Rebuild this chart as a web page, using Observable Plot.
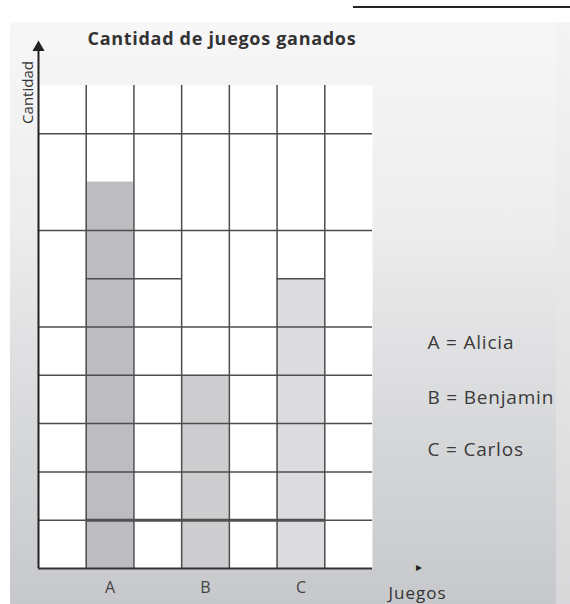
<!DOCTYPE html>
<html>
<head>
<meta charset="utf-8">
<script src="https://cdn.jsdelivr.net/npm/d3@7"></script>
<script src="https://cdn.jsdelivr.net/npm/@observablehq/plot@0.6"></script>
<style>
  html, body { margin: 0; padding: 0; background: #fff; }
  #wrap { position: relative; width: 570px; height: 604px; overflow: hidden; font-family: "Open Sans", sans-serif; }
  #bg { position: absolute; left: 10px; top: 22px; width: 546px; height: 582px;
        background: linear-gradient(to bottom, #f7f7f7 0%, #ededee 35%, #d7d8da 70%, #c7c8cb 100%); }
  #bgstrip { position: absolute; left: 556px; top: 22px; width: 14px; height: 582px;
        background: linear-gradient(to bottom, #f4f4f4 0%, #d8d8da 100%); }
  #topline { position: absolute; left: 353px; top: 6px; width: 217px; height: 2px; background: #222; }
  #chart { position: absolute; left: 0; top: 0; }
</style>
</head>
<body>
<div id="wrap">
  <div id="bg"></div>
  <div id="bgstrip"></div>
  <div id="topline"></div>
  <div id="chart"></div>
</div>
<script>
// Data
const players = ["A", "B", "C"];
const slots = [1, 3, 5];            // grid column where each bar stands (0..6)
const wins = [8, 4, 6];
const barColors = ["#bcbcc1", "#cdcdd0", "#dcdce0"];
const legendLabels = ["A = Alicia", "B = Benjamin", "C = Carlos"];
const title = "Cantidad de juegos ganados";
const yLabel = "Cantidad";
const xLabel = "Juegos";

// Grid description (in grid units)
const fullRows = [1, 2, 3, 4, 5, 7, 9];
const partialRows = [{y: 6, x1: 1, x2: 3}, {y: 6, x1: 5, x2: 6}];
const gridCols = [1, 2, 3, 4, 5, 6];
const yAxisTop = 10.85;

const bars = players.map((p, i) => ({player: p, slot: slots[i], value: wins[i], color: barColors[i]}));

const lineColor = "#4d4d4d";
const legendOffsets = [257, 312, 364];

const chart = Plot.plot({
  width: 570,
  height: 604,
  marginLeft: 38,
  marginRight: 198,
  marginTop: 85,
  marginBottom: 36,
  x: {domain: [0, 7], axis: null},
  y: {domain: [0, 10], axis: null},
  style: {background: "transparent", fontFamily: "Open Sans, sans-serif"},
  marks: [
    Plot.frame({fill: "white", stroke: "none"}),
    Plot.rectY(bars, {x1: "slot", x2: d => d.slot + 1, y1: 0, y2: "value", fill: d => d.color}),
    Plot.ruleX(gridCols, {y1: 0, y2: 10, stroke: lineColor, strokeWidth: 1.5}),
    Plot.ruleY(fullRows, {x1: 0, x2: 7, stroke: lineColor, strokeWidth: 1.5}),
    Plot.ruleY(partialRows, {y: "y", x1: "x1", x2: "x2", stroke: lineColor, strokeWidth: 1.5}),
    Plot.ruleY([1], {x1: 1, x2: 6, stroke: "#505050", strokeWidth: 3}),
    // axes
    Plot.ruleY([0], {x1: 0, x2: 7, stroke: "#333", strokeWidth: 2}),
    Plot.ruleX([0], {y1: 0, y2: yAxisTop, stroke: "#222", strokeWidth: 2}),
    Plot.dot([{}], {x: 0, y: yAxisTop, symbol: "triangle", r: 4.5, fill: "#222", stroke: "none", dy: 3}),
    // tick labels
    Plot.text(bars, {x: d => d.slot + 0.5, y: 0, text: "player", dy: 19, fontSize: 16, fill: "#444"}),
    // x axis small arrowhead and label
    Plot.text(["▸"], {frameAnchor: "bottom-right", dx: 46, dy: -1, textAnchor: "middle", lineAnchor: "middle", fontSize: 12, fill: "#222"}),
    Plot.text([xLabel], {frameAnchor: "bottom-right", dx: 45, dy: 25, textAnchor: "middle", lineAnchor: "middle", fontSize: 17, fill: "#333"}),
    // y label
    Plot.text([yLabel], {frameAnchor: "top-left", dx: -10, dy: 7, rotate: -90, textAnchor: "middle", lineAnchor: "middle", fontSize: 15, fill: "#333"}),
    // title
    Plot.text([title], {frameAnchor: "top-left", dx: 49, dy: -46, textAnchor: "start", lineAnchor: "middle", fontSize: 18, fontWeight: 700, fill: "#333"}),
    // legend
    ...legendLabels.map((t, i) =>
      Plot.text([t], {frameAnchor: "top-right", dx: 55, dy: legendOffsets[i], textAnchor: "start", lineAnchor: "middle", fontSize: 19, fontWeight: 500, fill: "#3a3a3a"})
    )
  ]
});
document.getElementById("chart").appendChild(chart);
// letter spacing tweaks to match the scanned typography
d3.select(chart).selectAll("text").each(function() {
  const t = this.textContent;
  if (t === title) this.style.letterSpacing = "0.7px";
  if (legendLabels.includes(t)) this.style.letterSpacing = "0.8px";
  if (t === xLabel) this.style.letterSpacing = "1px";
});
</script>
</body>
</html>
